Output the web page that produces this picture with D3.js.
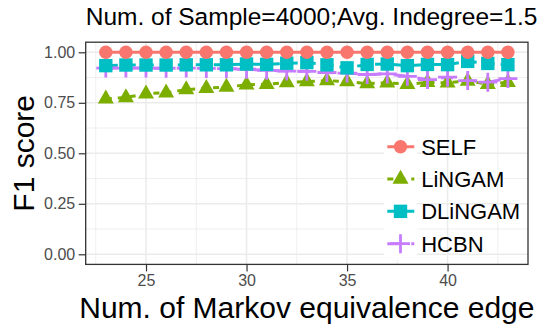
<!DOCTYPE html>
<html>
<head>
<meta charset="utf-8">
<script src="https://cdn.jsdelivr.net/npm/d3@7"></script>
<style>
  body { margin: 0; background: #fff; }
  svg { display: block; font-family: "Liberation Sans", Arial, Helvetica, sans-serif; }
</style>
</head>
<body>
<div id="chart"></div>
<script>
// x values (Markov equivalence edges)
var edges = [23, 24, 25, 26, 27, 28, 29, 30, 31, 32, 33, 34, 35, 36, 37, 38, 39, 40, 41, 42, 43];

// F1 scores per method
var selfF1    = [1.000, 1.000, 1.000, 1.000, 1.000, 1.000, 1.000, 1.000, 1.000, 1.000, 1.000, 1.000, 1.000, 1.000, 1.000, 1.000, 1.000, 1.000, 1.000, 1.000, 1.000];
var lingamF1  = [0.770, 0.776, 0.795, 0.800, 0.815, 0.822, 0.828, 0.839, 0.842, 0.850, 0.855, 0.860, 0.855, 0.845, 0.849, 0.842, 0.851, 0.849, 0.858, 0.842, 0.851];
var dlingamF1 = [0.934, 0.937, 0.937, 0.937, 0.938, 0.938, 0.938, 0.942, 0.940, 0.946, 0.949, 0.938, 0.923, 0.940, 0.942, 0.934, 0.940, 0.939, 0.955, 0.945, 0.939];
var hcbnF1    = [0.922, 0.922, 0.922, 0.921, 0.922, 0.920, 0.919, 0.916, 0.911, 0.907, 0.906, 0.900, 0.897, 0.890, 0.893, 0.881, 0.865, 0.877, 0.860, 0.852, 0.870];

var methods = ["SELF", "LiNGAM", "DLiNGAM", "HCBN"];
var xTicks = [25, 30, 35, 40];
var yTicks = [0, 0.25, 0.5, 0.75, 1];
var titleText = "Num. of Sample=4000;Avg. Indegree=1.5";

var W = 537, H = 324;
var margin = { top: 42.2, right: 9, bottom: 59.6, left: 85.7 },
    width  = W - margin.left - margin.right,
    height = H - margin.top - margin.bottom;

var colors = { SELF: "#F8766D", LiNGAM: "#7CAE00", DLiNGAM: "#00BFC4", HCBN: "#C77CFF" };
var dashes = { SELF: null, LiNGAM: "6,6", DLiNGAM: "12,6", HCBN: "12,12" };

var series = [
  { name: "SELF",    values: selfF1 },
  { name: "LiNGAM",  values: lingamF1 },
  { name: "DLiNGAM", values: dlingamF1 },
  { name: "HCBN",    values: hcbnF1 }
];

var xScale = d3.scaleLinear().domain([22, 44]).range([0, width]);
var yScale = d3.scaleLinear().domain([-0.05, 1.05]).range([height, 0]);

var svg = d3.select("#chart").append("svg")
    .attr("width", W).attr("height", H);

svg.append("rect").attr("width", W).attr("height", H).attr("fill", "#fff");

var canvas = svg.append("g")
    .attr("transform", "translate(" + margin.left + "," + margin.top + ")");

// grid: minor first, then major
var xMinor = [22.5, 27.5, 32.5, 37.5, 42.5];
var yMinor = [0.125, 0.375, 0.625, 0.875];

canvas.selectAll(".xminor").data(xMinor).enter().append("line")
    .attr("x1", d => xScale(d)).attr("x2", d => xScale(d))
    .attr("y1", 0).attr("y2", height)
    .attr("stroke", "#EBEBEB").attr("stroke-width", 0.8);
canvas.selectAll(".yminor").data(yMinor).enter().append("line")
    .attr("y1", d => yScale(d)).attr("y2", d => yScale(d))
    .attr("x1", 0).attr("x2", width)
    .attr("stroke", "#EBEBEB").attr("stroke-width", 0.8);
canvas.selectAll(".xmajor").data(xTicks).enter().append("line")
    .attr("x1", d => xScale(d)).attr("x2", d => xScale(d))
    .attr("y1", 0).attr("y2", height)
    .attr("stroke", "#EBEBEB").attr("stroke-width", 1.5);
canvas.selectAll(".ymajor").data(yTicks).enter().append("line")
    .attr("y1", d => yScale(d)).attr("y2", d => yScale(d))
    .attr("x1", 0).attr("x2", width)
    .attr("stroke", "#EBEBEB").attr("stroke-width", 1.5);

// lines
var line = d3.line()
    .x(function(d, i) { return xScale(edges[i]); })
    .y(function(d) { return yScale(d); });

series.forEach(function(s) {
  canvas.append("path")
      .attr("d", line(s.values))
      .attr("fill", "none")
      .attr("stroke", colors[s.name])
      .attr("stroke-width", 3)
      .attr("stroke-dasharray", dashes[s.name]);
});

// marker drawing
function drawMarker(g, name, cx, cy) {
  var c = colors[name];
  if (name === "SELF") {
    g.append("circle").attr("cx", cx).attr("cy", cy).attr("r", 6.7).attr("fill", c);
  } else if (name === "LiNGAM") {
    var hw = 8, up = 9.3, dn = 4.7;
    g.append("path")
        .attr("d", "M" + cx + "," + (cy - up) + "L" + (cx + hw) + "," + (cy + dn) + "L" + (cx - hw) + "," + (cy + dn) + "Z")
        .attr("fill", c);
  } else if (name === "DLiNGAM") {
    g.append("rect").attr("x", cx - 6.7).attr("y", cy - 6.7)
        .attr("width", 13.4).attr("height", 13.4).attr("fill", c);
  } else {
    var a = 9.5;
    g.append("path")
        .attr("d", "M" + (cx - a) + "," + cy + "H" + (cx + a) + "M" + cx + "," + (cy - a) + "V" + (cy + a))
        .attr("stroke", c).attr("stroke-width", 2.8).attr("fill", "none");
  }
}

// points, in the stacking order seen in the picture
var pointOrder = ["LiNGAM", "HCBN", "DLiNGAM", "SELF"];
var pts = canvas.append("g");
pointOrder.forEach(function(name) {
  var s = series.filter(function(d) { return d.name === name; })[0];
  s.values.forEach(function(v, i) {
    drawMarker(pts, name, xScale(edges[i]), yScale(v));
  });
});

// panel border
canvas.append("rect")
    .attr("width", width).attr("height", height)
    .attr("fill", "none").attr("stroke", "#333333").attr("stroke-width", 1.3);

// axes
var xAxis = d3.axisBottom(xScale).tickValues(xTicks).tickSize(7).tickPadding(3.5)
    .tickFormat(d3.format("d"));
var yAxis = d3.axisLeft(yScale).tickValues(yTicks).tickSize(7).tickPadding(3.5)
    .tickFormat(d3.format(".2f"));

var gx = canvas.append("g").attr("transform", "translate(0," + height + ")").call(xAxis);
var gy = canvas.append("g").call(yAxis);
[gx, gy].forEach(function(g) {
  g.select(".domain").remove();
  g.selectAll(".tick line").attr("stroke", "#333333").attr("stroke-width", 1.2);
  g.selectAll(".tick text")
      .attr("fill", "#4D4D4D")
      .style("font-size", "16px")
      .style("font-family", "'Liberation Sans', Arial, sans-serif");
});

// legend: white keys, transparent background
var legend = svg.append("g").attr("transform", "translate(384,130.6)");
var rowH = 32.3;
methods.forEach(function(name, i) {
  var cy = i * rowH + rowH / 2;
  var row = legend.append("g");
  row.append("rect").attr("x", 0).attr("y", i * rowH).attr("width", 33).attr("height", rowH)
      .attr("fill", "#fff");
  row.append("line").attr("x1", 3.3).attr("x2", 30.3).attr("y1", cy).attr("y2", cy)
      .attr("stroke", colors[name]).attr("stroke-width", 3)
      .attr("stroke-dasharray", dashes[name]);
  drawMarker(row, name, 16.5, cy);
  row.append("text")
      .attr("x", 37.2).attr("y", cy + 7.9)
      .style("font-size", "22px")
      .attr("fill", "#000")
      .text(name);
});

// titles
svg.append("text")
    .attr("x", margin.left).attr("y", 25)
    .style("font-size", "24.5px")
    .attr("fill", "#000")
    .text(titleText);

svg.append("text")
    .attr("x", margin.left + width / 2).attr("y", 318.3)
    .attr("text-anchor", "middle")
    .style("font-size", "30px")
    .attr("fill", "#000")
    .text("Num. of Markov equivalence edge");

svg.append("text")
    .attr("transform", "translate(33.5," + (margin.top + height / 2) + ") rotate(-90)")
    .attr("text-anchor", "middle")
    .style("font-size", "30px")
    .attr("fill", "#000")
    .text("F1 score");
</script>
</body>
</html>
